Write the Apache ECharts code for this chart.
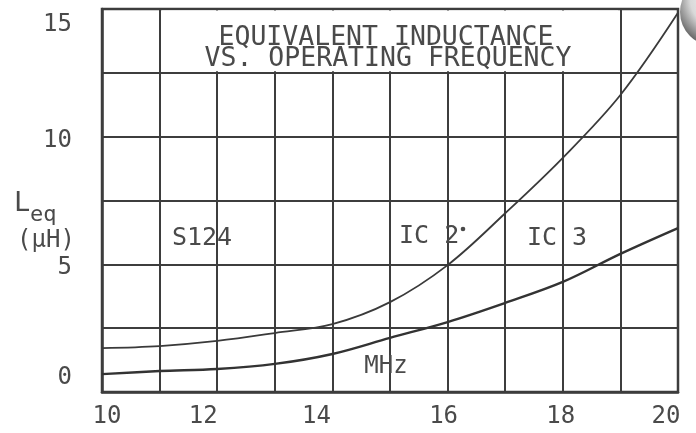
<!DOCTYPE html>
<html>
<head>
<meta charset="utf-8">
<script src="https://cdn.jsdelivr.net/npm/echarts@6/dist/echarts.min.js"></script>
<style>
html,body{margin:0;padding:0;background:#fff;}
#chart{width:696px;height:433px;}
</style>
</head>
<body>
<div id="chart"></div>
<script>
// ---- data ----
const freqMHz = [10, 11, 12, 13, 14, 15, 16, 17, 18, 19, 20];
const ic2Upper = [1.72, 1.80, 2.00, 2.31, 2.66, 3.52, 4.97, 7.00, 9.17, 11.63, 14.85];
const ic3Lower = [0.70, 0.82, 0.90, 1.10, 1.49, 2.12, 2.74, 3.49, 4.31, 5.41, 6.42];
const xTickLabels = [10, 12, 14, 16, 18, 20];
const yTickLabels = [0, 5, 10, 15];
const titleLines = ['EQUIVALENT INDUCTANCE', 'VS. OPERATING FREQUENCY'];
const titleBox = { x: [11, 19], y: [12.5, 15] };

// ---- styling ----
const INK = '#3d3d3d';
const TXT = '#4a4a4a';
const FONT = "'DejaVu Sans Mono', 'Liberation Mono', monospace";

// hand-drawn label offsets (pixels) -> rich styles
const xShift = {10: 5, 12: -14, 14: -16, 16: -4, 18: -2, 20: -12};
const yShift = {0: -14, 5: 3, 10: 4, 15: 16};
const xRich = {}, yRich = {};
xTickLabels.forEach(v => {
  const s = xShift[v] || 0;
  xRich['x' + v] = { fontFamily: FONT, fontSize: 24, color: TXT,
    padding: s >= 0 ? [0, 0, 0, 2 * s] : [0, -2 * s, 0, 0] };
});
yTickLabels.forEach(v => {
  const s = yShift[v] || 0;
  yRich['y' + v] = { fontFamily: FONT, fontSize: 24, color: TXT,
    padding: s >= 0 ? [2 * s, 0, 0, 0] : [0, 0, -2 * s, 0] };
});

const chart = echarts.init(document.getElementById('chart'), null, { renderer: 'canvas' });

const pair = (xs, ys) => xs.map((x, i) => [x, ys[i]]);

chart.setOption({
  animation: false,
  backgroundColor: '#ffffff',
  grid: { left: 102, right: 18, top: 9, bottom: 41, show: true,
          borderColor: INK, borderWidth: 2.5, backgroundColor: 'transparent' },
  xAxis: {
    type: 'value', min: 10, max: 20, interval: 1,
    axisLine: { show: true, lineStyle: { color: INK, width: 2.5 } },
    axisTick: { show: false },
    splitLine: { show: true, lineStyle: { color: INK, width: 2 } },
    axisLabel: {
      margin: 13,
      formatter: v => xTickLabels.includes(v) ? '{x' + v + '|' + v + '}' : '',
      rich: xRich
    }
  },
  yAxis: {
    type: 'value', min: 0, max: 15, interval: 2.5,
    axisLine: { show: true, lineStyle: { color: INK, width: 2.5 } },
    axisTick: { show: false },
    splitLine: { show: true, lineStyle: { color: INK, width: 2 } },
    axisLabel: {
      margin: 30,
      formatter: v => yTickLabels.includes(v) ? '{y' + v + '|' + v + '}' : '',
      rich: yRich
    }
  },
  series: [
    {
      name: 'IC 2', type: 'line', data: pair(freqMHz, ic2Upper),
      smooth: 0.35, showSymbol: false,
      lineStyle: { color: '#3a3a3a', width: 1.8 },
      markArea: {
        silent: true,
        itemStyle: { color: '#ffffff', borderWidth: 0 },
        data: [[{ coord: [titleBox.x[0] + 0.04, titleBox.y[0] + 0.06] },
                { coord: [titleBox.x[1] - 0.04, titleBox.y[1] - 0.06] }]]
      },
      z: 3
    },
    {
      name: 'IC 3', type: 'line', data: pair(freqMHz, ic3Lower),
      smooth: 0.35, showSymbol: false,
      lineStyle: { color: '#333333', width: 2.4 },
      z: 3
    }
  ]
});

// Title and annotations
const F_TITLE = '26.5px ' + FONT;
const F_ANN = '25px ' + FONT;
chart.setOption({
  graphic: [
    { type: 'text', id: 't1', x: 386, y: 25, z: 10,
      style: { text: titleLines[0], font: F_TITLE, fill: TXT, align: 'center', verticalAlign: 'top' } },
    { type: 'text', id: 't2', x: 388, y: 46, z: 10,
      style: { text: titleLines[1], font: F_TITLE, fill: TXT, align: 'center', verticalAlign: 'top' } },
    { type: 'text', id: 'a1', x: 202, y: 238, z: 10,
      style: { text: 'S124', font: F_ANN, fill: TXT, align: 'center', verticalAlign: 'middle' } },
    { type: 'text', id: 'a2', x: 399, y: 236, z: 10,
      style: { text: 'IC 2', font: F_ANN, fill: TXT, align: 'left', verticalAlign: 'middle' } },
    { type: 'circle', id: 'a2dot', z: 10, shape: { cx: 463, cy: 229, r: 2.3 }, style: { fill: TXT } },
    { type: 'text', id: 'a3', x: 557, y: 238, z: 10,
      style: { text: 'IC 3', font: F_ANN, fill: TXT, align: 'center', verticalAlign: 'middle' } },
    { type: 'text', id: 'a4', x: 386, y: 367, z: 10,
      style: { text: 'MHz', font: '24px ' + FONT, fill: TXT, align: 'center', verticalAlign: 'middle' } },
    { type: 'text', id: 'l1', x: 14, y: 190, z: 10,
      style: { text: 'L', font: '27px ' + FONT, fill: TXT, align: 'left', verticalAlign: 'top' } },
    { type: 'text', id: 'l2', x: 30, y: 204, z: 10,
      style: { text: 'eq', font: '22px ' + FONT, fill: TXT, align: 'left', verticalAlign: 'top' } },
    { type: 'text', id: 'l3', x: 46, y: 241, z: 10,
      style: { text: '(µH)', font: '24px ' + FONT, fill: TXT, align: 'center', verticalAlign: 'middle' } },
    { type: 'circle', id: 'punch', z: 10, shape: { cx: 714, cy: 12, r: 34 },
      style: { fill: { type: 'radial', x: 0.6, y: 0.3, r: 0.75,
                       colorStops: [{ offset: 0, color: '#ffffff' }, { offset: 0.6, color: '#d9d9d9' },
                                    { offset: 1, color: '#5a5a5a' }] } } }
  ]
});
</script>
</body>
</html>
